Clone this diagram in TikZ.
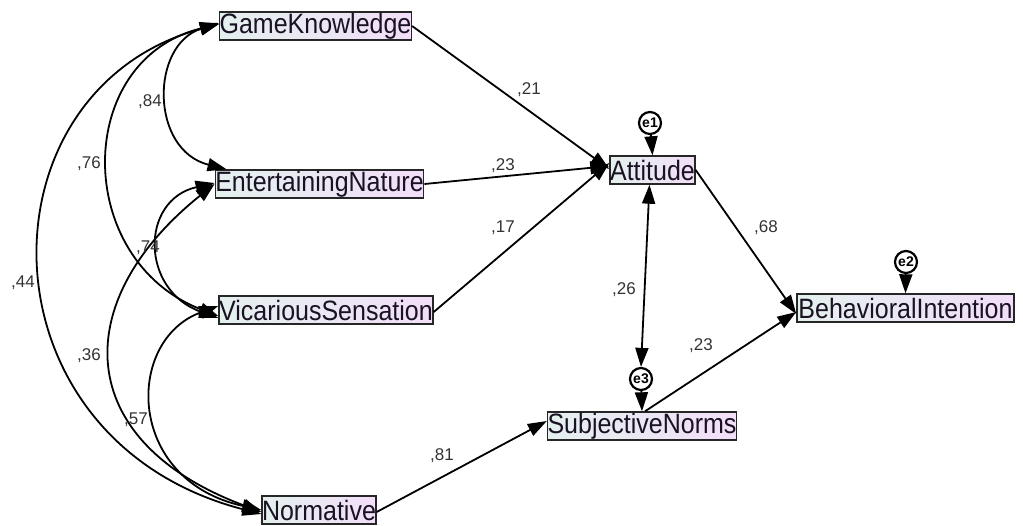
\documentclass[tikz,border=0pt]{standalone}
\usepackage{fontspec}
\setmainfont{Liberation Sans}
\usetikzlibrary{arrows.meta}
\definecolor{boxL}{RGB}{228,240,238}
\definecolor{boxR}{RGB}{242,222,248}
\definecolor{txt}{RGB}{25,18,35}
\newcommand\tallt[1]{\scalebox{1}[1.12]{#1}}
\tikzset{
  var/.style={draw=black!85, line width=1.4pt, left color=boxL, right color=boxR,
    minimum height=28pt, inner sep=0pt, text=txt,
    font=\fontsize{25}{25}\selectfont},
  err/.style={circle, draw=black, line width=2.2pt, fill=white, minimum size=22pt, inner sep=0pt,
    font=\fontsize{14}{14}\selectfont\bfseries},
  path/.style={line width=1.8pt, -{Triangle[length=19pt,width=13pt]}},
  cov/.style={line width=1.8pt, {Triangle[length=19pt,width=13pt]}-{Triangle[length=19pt,width=13pt]}},
  coef/.style={font=\fontsize{17}{17}\selectfont, text=black!80, inner sep=0pt}
}
\begin{document}
\begin{tikzpicture}[x=1pt,y=-1pt]
\useasboundingbox (0,0) rectangle (1023,525);
% variables
\node[var, minimum width=191pt] (gk) at (315.5,26) {\tallt{GameKnowledge}};
\node[var, minimum width=207pt] (en) at (319.5,184) {\tallt{EntertainingNature}};
\node[var, minimum width=214pt] (vs) at (326,310) {\tallt{VicariousSensation}};
\node[var, minimum width=112pt] (no) at (319,510) {\tallt{Normative}};
\node[var, minimum width=85pt] (at) at (652.5,170) {\tallt{Attitude}};
\node[var, minimum width=217pt] (bi) at (905.5,308) {\tallt{BehavioralIntention}};
\node[var, minimum width=186pt] (sn) at (642,426) {\tallt{SubjectiveNorms}};
% errors
\node[err] (e1) at (650,123) {e1};
\node[err] (e2) at (906,262) {e2};
\node[err] (e3) at (641,379) {e3};
% structural paths
\draw[path] (gk.east) -- ([yshift=1pt]at.west);
\draw[path] (en.east) -- ([yshift=4pt]at.west);
\draw[path] ([yshift=-2pt]vs.east) -- ([yshift=7pt]at.west);
\draw[path] (at.east) -- ([yshift=-6pt]bi.west);
\draw[path] ([xshift=3pt]sn.north) -- ([yshift=-4pt]bi.west);
\draw[path] ([yshift=-2pt]no.east) -- ([yshift=5pt]sn.west);
\draw[path] (e1) -- (at.north);
\draw[path] (e2) -- (bi.north);
\draw[path] (e3) -- (sn.north);
\draw[cov] ([xshift=-3pt]at.south) -- (e3.north);
% covariances
\draw[cov] ([yshift=3pt]gk.west) .. controls (150,45) and (150,150) .. ([xshift=12pt]en.north west);
\draw[cov] ([yshift=2pt]gk.west) .. controls (73,60) and (73,260) .. ([yshift=-6pt]vs.west);
\draw[cov] ([yshift=2pt]gk.west) .. controls (-25,90) and (-25,440) .. ([yshift=-4pt]no.west);
\draw[cov] ([yshift=1pt]en.west) .. controls (140,200) and (140,290) .. ([yshift=-8pt]vs.west);
\draw[cov] ([yshift=0pt]en.west) .. controls (70,300) and (70,440) .. ([yshift=-2pt]no.west);
\draw[cov] ([yshift=4pt]vs.west) .. controls (125,340) and (125,480) .. ([yshift=0pt]no.west);
% coefficients
\node[coef] (c84) at (150,102) {,84};
\node[coef] (c76) at (89,164) {,76};
\node[coef] (c44) at (23,283) {,44};
\node[coef] (c74) at (148,248) {,74};
\node[coef] (c36) at (89,356) {,36};
\node[coef] (c57) at (136,420) {,57};
\node[coef] (c21) at (529,90) {,21};
\node[coef] (c23a) at (503,166) {,23};
\node[coef] (c17) at (503,228) {,17};
\node[coef] (c26) at (624,290) {,26};
\node[coef] (c68) at (766,228) {,68};
\node[coef] (c23b) at (701,346) {,23};
\node[coef] (c81) at (442,456) {,81};
\end{tikzpicture}
\end{document}
